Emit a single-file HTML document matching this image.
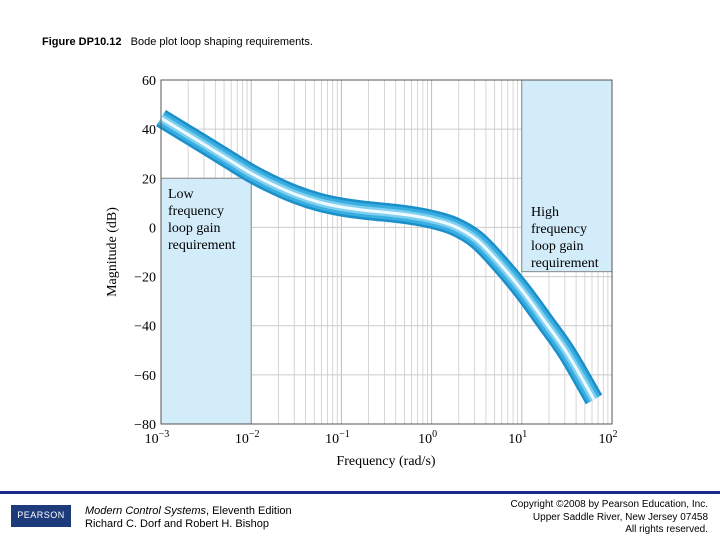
<!DOCTYPE html>
<html><head><meta charset="utf-8"><style>
body{margin:0;width:720px;height:540px;background:#fff;position:relative;overflow:hidden;font-family:"Liberation Sans",sans-serif}
.t{position:absolute;font-size:11px;color:#000}
</style></head><body>
<div class="t" style="left:42px;top:36px;font-size:11px"><b>Figure DP10.12</b>&nbsp;&nbsp; Bode plot loop shaping requirements.</div>
<svg id="chart" width="720" height="490" style="position:absolute;left:0;top:0" font-family="Liberation Serif, serif"></svg>
<div style="position:absolute;left:0;top:491px;width:720px;height:3px;background:#1b2a8c"></div>
<div style="position:absolute;left:11px;top:505px;width:60px;height:22px;background:#1d3a7a;color:#fff;font-size:9px;text-align:center;line-height:20px;letter-spacing:0.5px">PEARSON</div>
<div class="t" style="left:85px;top:505px;line-height:13px"><i>Modern Control Systems</i>, Eleventh Edition<br>Richard C. Dorf and Robert H. Bishop</div>
<div class="t" style="right:12px;top:499px;line-height:12.5px;text-align:right;font-size:10px">Copyright ©2008 by Pearson Education, Inc.<br>Upper Saddle River, New Jersey 07458<br>All rights reserved.</div>
<script>
const xTickExp=[-3,-2,-1,0,1,2];
const yTicks=[60,40,20,0,-20,-40,-60,-80];
const curveLogW=[-3,-2.75,-2.5,-2.25,-2,-1.75,-1.5,-1.25,-1,-0.75,-0.5,-0.25,0,0.25,0.5,0.75,1,1.25,1.5,1.8];
const curveDb=[44.5,38.9,33.3,27.6,22,17.3,13.3,10.3,8.3,7,6.1,5,3.3,0.5,-5,-14.5,-25.5,-38,-51,-70];
const lowReq=[-3,-2,20];  // logw from, to, max dB
const highReq=[1,2,-18];  // logw from, to, min dB
const X0=161,X1=612,Y0=80,Y1=424;
const xs=l=>X0+(l+3)/5*(X1-X0);
const ys=d=>Y0+(60-d)/140*(Y1-Y0);
const svg=document.getElementById('chart');const NS='http://www.w3.org/2000/svg';
function mk(t,a,p){const e=document.createElementNS(NS,t);for(const k in a)e.setAttribute(k,a[k]);(p||svg).appendChild(e);return e;}
let e;
for(let d=-3;d<2;d++)for(let m=1;m<10;m++){const x=xs(d+Math.log10(m));
e=mk('line',{x1:x,x2:x,y1:Y0,y2:Y1,stroke:m==1?'#bbb':'#ccc','stroke-width':m==1?1:0.8});
}
yTicks.forEach(v=>{e=mk('line',{x1:X0,x2:X1,y1:ys(v),y2:ys(v),stroke:'#ccc'});
});
e=mk('rect',{x:xs(lowReq[0]),y:ys(lowReq[2]),width:xs(lowReq[1])-xs(lowReq[0]),height:Y1-ys(lowReq[2]),fill:'#d2ecfa',stroke:'#888'});

e=mk('rect',{x:xs(highReq[0]),y:Y0,width:xs(highReq[1])-xs(highReq[0]),height:ys(highReq[2])-Y0,fill:'#d2ecfa',stroke:'#888'});

function label(lines,x,y,name){const t=mk('text',{x:x,y:y,'font-size':14});
lines.forEach((s,i)=>{const ts=mk('tspan',{x:x,dy:i?17:0},t);ts.textContent=s;});}
label(['Low','frequency','loop gain','requirement'],168,198,'low-frequency-label');
label(['High','frequency','loop gain','requirement'],531,216,'high-frequency-label');
let d='';for(let i=0;i<curveLogW.length;i++){const x=xs(curveLogW[i]),y=ys(curveDb[i]);
if(i==0)d='M'+x+','+y;else{const px=xs(curveLogW[i-1]),py=ys(curveDb[i-1]);
const ppx=i>1?xs(curveLogW[i-2]):px,ppy=i>1?ys(curveDb[i-2]):py;
const nx=i<curveLogW.length-1?xs(curveLogW[i+1]):x,ny=i<curveLogW.length-1?ys(curveDb[i+1]):y;
d+=' C'+(px+(x-ppx)/6)+','+(py+(y-ppy)/6)+' '+(x-(nx-px)/6)+','+(y-(ny-py)/6)+' '+x+','+y;}}
[['#1a8fc9',19],['#3aaee0',14],['#7fd0f0',8],['#eefaff',3]].forEach(s=>{
e=mk('path',{d:d,fill:'none',stroke:s[0],'stroke-width':s[1],'stroke-linejoin':'round'});
});
e=mk('rect',{x:X0,y:Y0,width:X1-X0,height:Y1-Y0,fill:'none',stroke:'#555'});

yTicks.forEach(v=>{e=mk('text',{x:X0-5,y:ys(v)+5,'text-anchor':'end','font-size':14});e.textContent=v<0?'\u2212'+(-v):v;
});
xTickExp.forEach(p=>{e=mk('text',{x:xs(p)-4,y:443,'text-anchor':'middle','font-size':14});
e.textContent='10';const s=mk('tspan',{dy:-6,'font-size':10},e);s.textContent=p<0?'\u2212'+(-p):p;
});
e=mk('text',{x:386,y:465,'text-anchor':'middle','font-size':14});e.textContent='Frequency (rad/s)';

e=mk('text',{x:116,y:252,'text-anchor':'middle','font-size':14,transform:'rotate(-90 116 252)'});e.textContent='Magnitude (dB)';

</script>
</body></html>
